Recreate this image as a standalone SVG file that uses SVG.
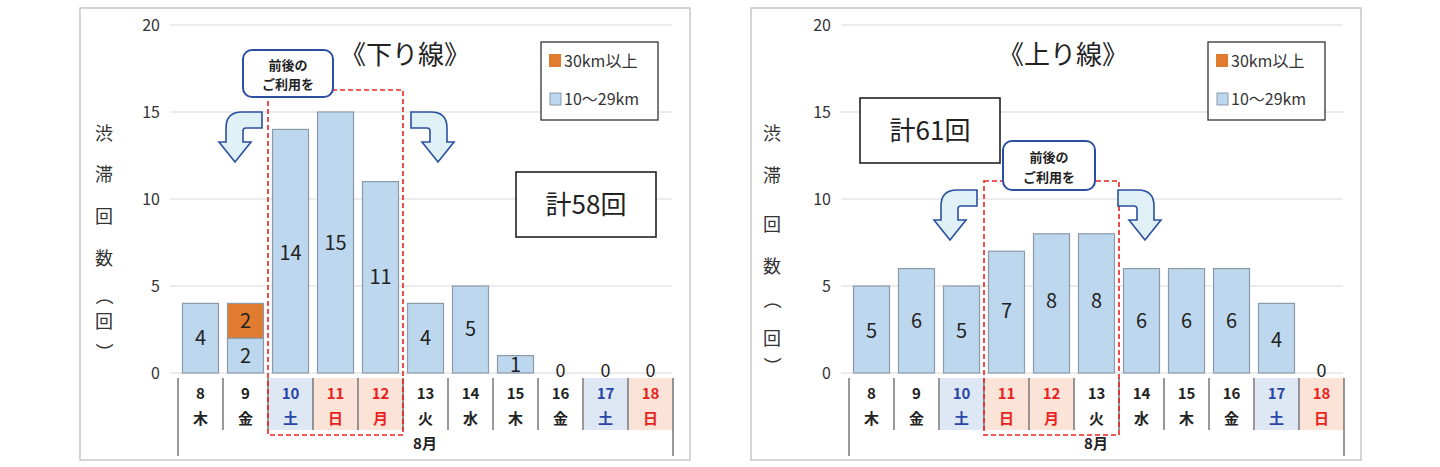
<svg xmlns="http://www.w3.org/2000/svg" width="1440" height="467" viewBox="0 0 1440 467">
<style>
text{font-family:"Noto Sans CJK JP","Noto Sans",sans-serif;fill:#222}
.frame{fill:#fff;stroke:#c8c8c8;stroke-width:1.5}
.grid{stroke:#d9d9d9;stroke-width:1}
.tick{font-size:16px;text-anchor:end;fill:#333}
.bar{fill:#bdd7ee;stroke:#8c9aa8;stroke-width:1.2}
.orange{fill:#e07b30;stroke:#8c9aa8;stroke-width:1.2}
.val{font-size:20px;text-anchor:middle}
.zero{font-size:18px;text-anchor:middle}
.day{font-size:15px;font-weight:bold;text-anchor:middle}
.sat{fill:#2a46a8}.sun{fill:#e8231e}
.bgsat{fill:#dde8f4}.bgsun{fill:#fbe3d8}
.sep{stroke:#555;stroke-width:1.2}
.dash{fill:none;stroke:#e8231e;stroke-width:1.6;stroke-dasharray:5,3}
.call{fill:#fff;stroke:#2b4fa0;stroke-width:2}
.calltxt{font-size:13px;font-weight:bold;text-anchor:middle}
.arrow{fill:#dff0f6;stroke:#2b4fa0;stroke-width:1.6}
.box{fill:#fff;stroke:#222;stroke-width:1.6}
.ylab{font-size:18px;text-anchor:middle;fill:#333}
.leg{font-size:16px;fill:#333}
</style>
<defs>
<g id="axisbase">
<rect class="frame" x="80" y="8" width="610" height="452"/>
<line class="grid" x1="170" y1="25" x2="672" y2="25"/>
<line class="grid" x1="170" y1="112" x2="672" y2="112"/>
<line class="grid" x1="170" y1="199" x2="672" y2="199"/>
<line class="grid" x1="170" y1="286" x2="672" y2="286"/>
<line class="grid" x1="170" y1="373" x2="672" y2="373"/>
<text class="tick" x="160" y="31">20</text>
<text class="tick" x="160" y="118">15</text>
<text class="tick" x="160" y="205">10</text>
<text class="tick" x="160" y="292">5</text>
<text class="tick" x="160" y="379">0</text>
<rect class="bgsat" x="269" y="378" width="44" height="52"/>
<rect class="bgsun" x="314" y="378" width="44" height="52"/>
<rect class="bgsun" x="359" y="378" width="44" height="52"/>
<rect class="bgsat" x="584" y="378" width="44" height="52"/>
<rect class="bgsun" x="629" y="378" width="44" height="52"/>
<line class="sep" x1="178" y1="378" x2="178" y2="456"/>
<line class="sep" x1="673" y1="378" x2="673" y2="456"/>
<line class="sep" x1="223" y1="378" x2="223" y2="430"/>
<line class="sep" x1="268" y1="378" x2="268" y2="430"/>
<line class="sep" x1="313" y1="378" x2="313" y2="430"/>
<line class="sep" x1="358" y1="378" x2="358" y2="430"/>
<line class="sep" x1="403" y1="378" x2="403" y2="430"/>
<line class="sep" x1="448" y1="378" x2="448" y2="430"/>
<line class="sep" x1="493" y1="378" x2="493" y2="430"/>
<line class="sep" x1="538" y1="378" x2="538" y2="430"/>
<line class="sep" x1="583" y1="378" x2="583" y2="430"/>
<line class="sep" x1="628" y1="378" x2="628" y2="430"/>
<text class="day" x="425" y="449">8月</text>
</g>
</defs>

<g id="chart-down">
<use href="#axisbase"/>
<g id="ylabel-down">
<text class="ylab" x="104" y="140">渋</text>
<text class="ylab" x="104" y="181">滞</text>
<text class="ylab" x="104" y="223">回</text>
<text class="ylab" x="104" y="265">数</text>
<text class="ylab" x="104" y="302" transform="rotate(90 104 296)">（</text>
<text class="ylab" x="104" y="328">回</text>
<text class="ylab" x="104" y="358" transform="rotate(90 104 352)">）</text>
</g>
<g id="bars-down">
<rect class="bar" x="182.5" y="303.4" width="36" height="69.6"/><text class="val" x="200.5" y="345">4</text>
<rect class="bar" x="227.5" y="338.2" width="36" height="34.8"/><text class="val" x="245.5" y="363">2</text>
<rect class="orange" x="227.5" y="303.4" width="36" height="34.8"/><text class="val" x="245.5" y="328">2</text>
<rect class="bar" x="272.5" y="129.4" width="36" height="243.6"/><text class="val" x="290.5" y="260">14</text>
<rect class="bar" x="317.5" y="112" width="36" height="261"/><text class="val" x="335.5" y="250">15</text>
<rect class="bar" x="362.5" y="181.6" width="36" height="191.4"/><text class="val" x="380.5" y="284">11</text>
<rect class="bar" x="407.5" y="303.4" width="36" height="69.6"/><text class="val" x="425.5" y="345">4</text>
<rect class="bar" x="452.5" y="286" width="36" height="87"/><text class="val" x="470.5" y="336">5</text>
<rect class="bar" x="497.5" y="355.6" width="36" height="17.4"/><text class="val" x="515.5" y="372">1</text>
<text class="zero" x="560.5" y="377">0</text>
<text class="zero" x="605.5" y="377">0</text>
<text class="zero" x="650.5" y="377">0</text>
</g>
<g id="days-down">
<text class="day" x="200.5" y="399">8</text><text class="day" x="200.5" y="424">木</text>
<text class="day" x="245.5" y="399">9</text><text class="day" x="245.5" y="424">金</text>
<text class="day sat" x="290.5" y="399">10</text><text class="day sat" x="290.5" y="424">土</text>
<text class="day sun" x="335.5" y="399">11</text><text class="day sun" x="335.5" y="424">日</text>
<text class="day sun" x="380.5" y="399">12</text><text class="day sun" x="380.5" y="424">月</text>
<text class="day" x="425.5" y="399">13</text><text class="day" x="425.5" y="424">火</text>
<text class="day" x="470.5" y="399">14</text><text class="day" x="470.5" y="424">水</text>
<text class="day" x="515.5" y="399">15</text><text class="day" x="515.5" y="424">木</text>
<text class="day" x="560.5" y="399">16</text><text class="day" x="560.5" y="424">金</text>
<text class="day sat" x="605.5" y="399">17</text><text class="day sat" x="605.5" y="424">土</text>
<text class="day sun" x="650.5" y="399">18</text><text class="day sun" x="650.5" y="424">日</text>
</g>
<rect class="dash" x="268" y="90" width="135" height="345"/>
<g id="callout-down">
<rect class="call" x="243" y="50" width="90" height="47" rx="9"/>
<text class="calltxt" x="288" y="70">前後の</text>
<text class="calltxt" x="288" y="89">ご利用を</text>
</g>
<path class="arrow" d="M262,112 L242,112 Q226,112 226,128 L226,142 L219,142 L235,162 L251,142 L243,142 L243,131 Q243,128 246,128 L262,128 Z"/>
<path class="arrow" d="M411,112 L431,112 Q447,112 447,128 L447,142 L454,142 L438,162 L422,142 L430,142 L430,131 Q430,128 427,128 L411,128 Z"/>
<text x="405" y="64" font-size="26" text-anchor="middle">《下り線》</text>
<g id="legend-down">
<rect x="541" y="42" width="117" height="78" fill="#fff" stroke="#333" stroke-width="1.3"/>
<rect x="549" y="54" width="12" height="13" fill="#e07b30"/>
<text class="leg" x="564" y="67">30km以上</text>
<rect x="550" y="93" width="11" height="12" fill="#bdd7ee" stroke="#8c9aa8"/>
<text class="leg" x="564" y="105">10～29km</text>
</g>
<g id="total-down">
<rect class="box" x="516" y="172" width="140" height="65"/>
<text x="586" y="214" font-size="26" text-anchor="middle">計58回</text>
</g>
</g>

<g id="chart-up" transform="translate(671,0)">
<use href="#axisbase"/>
<g id="ylabel-up">
<text class="ylab" x="101" y="140">渋</text>
<text class="ylab" x="101" y="182">滞</text>
<text class="ylab" x="101" y="231">回</text>
<text class="ylab" x="101" y="273">数</text>
<text class="ylab" x="101" y="306" transform="rotate(90 101 300)">（</text>
<text class="ylab" x="101" y="345">回</text>
<text class="ylab" x="101" y="372" transform="rotate(90 101 366)">）</text>
</g>
<g id="bars-up">
<rect class="bar" x="182.5" y="286" width="36" height="87"/><text class="val" x="200.5" y="338">5</text>
<rect class="bar" x="227.5" y="268.6" width="36" height="104.4"/><text class="val" x="245.5" y="328">6</text>
<rect class="bar" x="272.5" y="286" width="36" height="87"/><text class="val" x="290.5" y="338">5</text>
<rect class="bar" x="317.5" y="251.2" width="36" height="121.8"/><text class="val" x="335.5" y="318">7</text>
<rect class="bar" x="362.5" y="233.8" width="36" height="139.2"/><text class="val" x="380.5" y="308">8</text>
<rect class="bar" x="407.5" y="233.8" width="36" height="139.2"/><text class="val" x="425.5" y="308">8</text>
<rect class="bar" x="452.5" y="268.6" width="36" height="104.4"/><text class="val" x="470.5" y="328">6</text>
<rect class="bar" x="497.5" y="268.6" width="36" height="104.4"/><text class="val" x="515.5" y="328">6</text>
<rect class="bar" x="542.5" y="268.6" width="36" height="104.4"/><text class="val" x="560.5" y="328">6</text>
<rect class="bar" x="587.5" y="303.4" width="36" height="69.6"/><text class="val" x="605.5" y="347">4</text>
<text class="zero" x="650.5" y="377">0</text>
</g>
<g id="days-up">
<text class="day" x="200.5" y="399">8</text><text class="day" x="200.5" y="424">木</text>
<text class="day" x="245.5" y="399">9</text><text class="day" x="245.5" y="424">金</text>
<text class="day sat" x="290.5" y="399">10</text><text class="day sat" x="290.5" y="424">土</text>
<text class="day sun" x="335.5" y="399">11</text><text class="day sun" x="335.5" y="424">日</text>
<text class="day sun" x="380.5" y="399">12</text><text class="day sun" x="380.5" y="424">月</text>
<text class="day" x="425.5" y="399">13</text><text class="day" x="425.5" y="424">火</text>
<text class="day" x="470.5" y="399">14</text><text class="day" x="470.5" y="424">水</text>
<text class="day" x="515.5" y="399">15</text><text class="day" x="515.5" y="424">木</text>
<text class="day" x="560.5" y="399">16</text><text class="day" x="560.5" y="424">金</text>
<text class="day sat" x="605.5" y="399">17</text><text class="day sat" x="605.5" y="424">土</text>
<text class="day sun" x="650.5" y="399">18</text><text class="day sun" x="650.5" y="424">日</text>
</g>
<rect class="dash" x="313" y="181" width="135" height="254"/>
<g id="callout-up">
<rect class="call" x="332" y="141" width="92" height="49" rx="9"/>
<text class="calltxt" x="378" y="162">前後の</text>
<text class="calltxt" x="378" y="182">ご利用を</text>
</g>
<path class="arrow" transform="translate(44,78)" d="M262,112 L242,112 Q226,112 226,128 L226,142 L219,142 L235,162 L251,142 L243,142 L243,131 Q243,128 246,128 L262,128 Z"/>
<path class="arrow" transform="translate(36,78)" d="M411,112 L431,112 Q447,112 447,128 L447,142 L454,142 L438,162 L422,142 L430,142 L430,131 Q430,128 427,128 L411,128 Z"/>
<text x="392" y="64" font-size="26" text-anchor="middle">《上り線》</text>
<g id="legend-up">
<rect x="537" y="42" width="117" height="78" fill="#fff" stroke="#333" stroke-width="1.3"/>
<rect x="545" y="54" width="12" height="13" fill="#e07b30"/>
<text class="leg" x="560" y="67">30km以上</text>
<rect x="546" y="93" width="11" height="12" fill="#bdd7ee" stroke="#8c9aa8"/>
<text class="leg" x="560" y="105">10～29km</text>
</g>
<g id="total-up">
<rect class="box" x="189" y="98" width="140" height="65"/>
<text x="259" y="140" font-size="26" text-anchor="middle">計61回</text>
</g>
</g>
</svg>
